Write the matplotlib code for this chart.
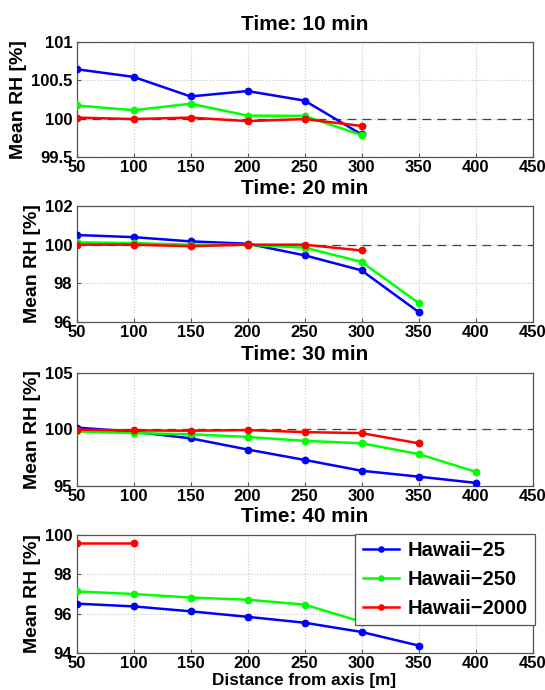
import matplotlib
matplotlib.use("Agg")
import matplotlib.pyplot as plt

plt.rcParams['font.family'] = ['Liberation Sans', 'DejaVu Sans']
plt.rcParams['font.weight'] = 'bold'

distance = [50, 100, 150, 200, 250, 300, 350, 400]
series_names = ['Hawaii\u221225', 'Hawaii\u2212250', 'Hawaii\u22122000']
series_colors = ['#0000ff', '#00ff00', '#ff0000']

titles = ['Time: 10 min', 'Time: 20 min', 'Time: 30 min', 'Time: 40 min']

# Mean RH [%] per time step, for each run
rh_10min_h25 = [100.645, 100.545, 100.29, 100.36, 100.236, 99.795]
rh_10min_h250 = [100.173, 100.11, 100.195, 100.04, 100.036, 99.786]
rh_10min_h2000 = [100.014, 99.995, 100.014, 99.968, 99.995, 99.905]

rh_20min_h25 = [100.50, 100.39, 100.17, 100.05, 99.45, 98.67, 96.52]
rh_20min_h250 = [100.12, 100.08, 100.0, 99.99, 99.85, 99.11, 96.99]
rh_20min_h2000 = [100.0, 100.0, 99.92, 100.0, 100.0, 99.70]

rh_30min_h25 = [100.17, 99.80, 99.22, 98.23, 97.31, 96.35, 95.83, 95.28]
rh_30min_h250 = [99.83, 99.68, 99.58, 99.34, 99.0, 98.78, 97.83, 96.26]
rh_30min_h2000 = [99.98, 99.92, 99.89, 99.95, 99.77, 99.68, 98.78]

rh_40min_h25 = [96.51, 96.37, 96.12, 95.84, 95.54, 95.07, 94.38]
rh_40min_h250 = [97.13, 97.0, 96.82, 96.71, 96.46, 95.59]
rh_40min_h2000 = [99.57, 99.57]

panels = [
    [rh_10min_h25, rh_10min_h250, rh_10min_h2000],
    [rh_20min_h25, rh_20min_h250, rh_20min_h2000],
    [rh_30min_h25, rh_30min_h250, rh_30min_h2000],
    [rh_40min_h25, rh_40min_h250, rh_40min_h2000],
]

y_limits = [(99.5, 101), (96, 102), (95, 105), (94, 100)]
y_ticks = [[99.5, 100, 100.5, 101], [96, 98, 100, 102], [95, 100, 105], [94, 96, 98, 100]]
y_ticklabels = [['99.5', '100', '100.5', '101'], ['96', '98', '100', '102'],
                ['95', '100', '105'], ['94', '96', '98', '100']]
x_ticks = [50, 100, 150, 200, 250, 300, 350, 400, 450]

W, H = 545, 690
fig = plt.figure(figsize=(W / 100, H / 100), dpi=100)

# axes boxes in pixels: (top, bottom)
boxes = [(42, 157), (206, 322), (373, 486), (535, 653)]
left_px, right_px = 76.5, 532.5

for i, (top, bottom) in enumerate(boxes):
    ax = fig.add_axes([left_px / W, 1 - bottom / H, (right_px - left_px) / W, (bottom - top) / H])
    ax.set_xlim(50, 450)
    ax.set_ylim(*y_limits[i])
    ax.set_xticks(x_ticks)
    ax.set_xticklabels([str(t) for t in x_ticks])
    ax.set_yticks(y_ticks[i])
    ax.set_yticklabels(y_ticklabels[i])
    ax.grid(True, linestyle=':', color='#c8c8c8', linewidth=0.8)
    ax.set_axisbelow(True)
    for sp in ax.spines.values():
        sp.set_color('#555555')
        sp.set_linewidth(0.9)
    ax.tick_params(direction='in', length=3, color='#555555', labelsize=12)
    ax.tick_params(axis='x', pad=2.5)
    ax.tick_params(axis='y', pad=3)
    for lbl in ax.get_xticklabels() + ax.get_yticklabels():
        lbl.set_fontweight('bold')

    if i < 3:
        ax.plot([50, 450], [100, 100], linestyle=(0, (7, 5)), color='#404040', linewidth=0.9, zorder=1)

    for name, color, vals in zip(series_names, series_colors, panels[i]):
        ax.plot(distance[:len(vals)], vals, '-o', color=color, linewidth=1.8,
                markersize=4.6, label=name, zorder=3)

    ax.set_title(titles[i], fontsize=15, fontweight='bold', pad=9)
    ax.set_ylabel('Mean RH [%]', fontsize=14, fontweight='bold', labelpad=3)

    if i == 3:
        ax.set_xlabel('Distance from axis [m]', fontsize=12.3, fontweight='bold', labelpad=1)
        leg = ax.legend(loc='upper right', bbox_to_anchor=(535 / W, 1 - 534 / H),
                        bbox_transform=fig.transFigure, fontsize=14.5, frameon=True,
                        fancybox=False, edgecolor='#555555', framealpha=1,
                        handlelength=1.8, handletextpad=0.45, borderpad=0.35,
                        borderaxespad=0, labelspacing=0.5, markerscale=0.8)
        leg.get_frame().set_linewidth(0.9)
        for t in leg.get_texts():
            t.set_fontweight('bold')

fig.savefig('out.png', dpi=100)
